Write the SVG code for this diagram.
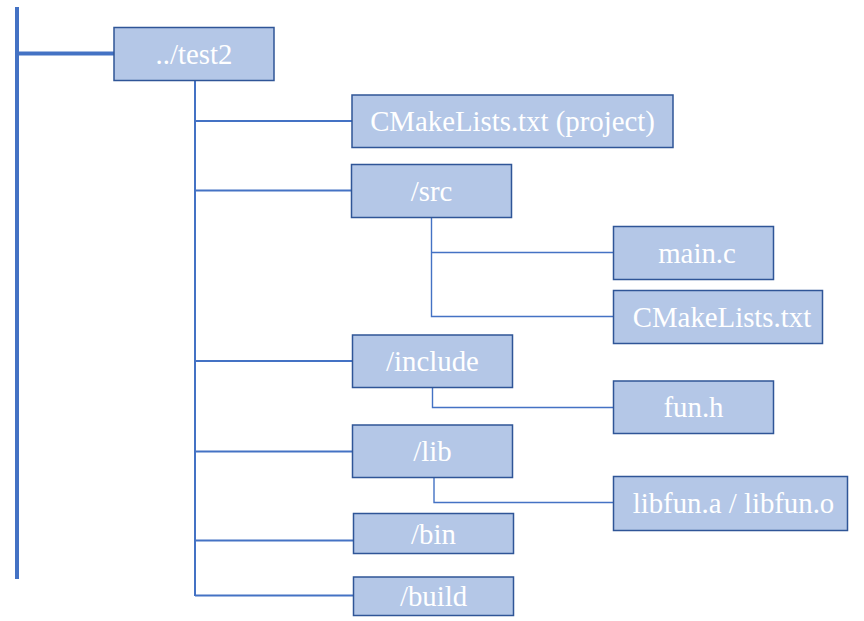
<svg xmlns="http://www.w3.org/2000/svg" width="864" height="621" viewBox="0 0 864 621">
<style>
.box{fill:#B4C7E7;stroke:#2F5597;stroke-width:1.5}
.lbl{font-family:"Liberation Serif","Times New Roman",serif;font-size:28.8px;fill:#FFFFFF;text-anchor:middle}
.ln{fill:none;stroke:#4472C4;stroke-width:2}
.thin{fill:none;stroke:#4472C4;stroke-width:1.4}
.thick{fill:none;stroke:#4472C4;stroke-width:4}
</style>
<rect width="864" height="621" fill="#FFFFFF"/>
<g id="connectors">
<path class="thick" d="M17 7V579M17 53.5H114"/>
<path class="ln" d="M195 80V596M195 121H352M195 190.5H351M195 361H352.5M195 451.5H352.5M195 540.5H353.5M195 595.5H353.5"/>
<path class="thin" d="M431.5 217.5V316.5H613M431.5 252.5H613M432.5 387.5V407.5H613.5M434 477.5V502.5H613.5"/>
</g>
<g id="test2"><rect class="box" x="114" y="27.5" width="160" height="53"/><text class="lbl" x="194" y="64">../test2</text></g>
<g id="cmake-project"><rect class="box" x="352" y="95" width="321" height="52.5"/><text class="lbl" x="512.5" y="131">CMakeLists.txt (project)</text></g>
<g id="src"><rect class="box" x="351.5" y="164.5" width="160" height="53"/><text class="lbl" x="431.5" y="200.5">/src</text></g>
<g id="main-c"><rect class="box" x="613.5" y="226.5" width="160" height="53"/><text class="lbl" x="697" y="262.5">main.c</text></g>
<g id="cmake-src"><rect class="box" x="613.5" y="290.5" width="209" height="53"/><text class="lbl" x="722" y="326.5">CMakeLists.txt</text></g>
<g id="include"><rect class="box" x="352.5" y="335" width="160" height="52.5"/><text class="lbl" x="432.5" y="371">/include</text></g>
<g id="fun-h"><rect class="box" x="613.5" y="381" width="160" height="52.5"/><text class="lbl" x="693.5" y="417">fun.h</text></g>
<g id="lib"><rect class="box" x="352.5" y="425" width="160" height="52.5"/><text class="lbl" x="432.5" y="461">/lib</text></g>
<g id="libfun"><rect class="box" x="613.5" y="476.5" width="234" height="54"/><text class="lbl" x="733.5" y="513">libfun.a / libfun.o</text></g>
<g id="bin"><rect class="box" x="353.5" y="513.5" width="160" height="40"/><text class="lbl" x="433.5" y="543.5">/bin</text></g>
<g id="build"><rect class="box" x="353.5" y="577" width="160" height="38.5"/><text class="lbl" x="433.5" y="606">/build</text></g>
</svg>
